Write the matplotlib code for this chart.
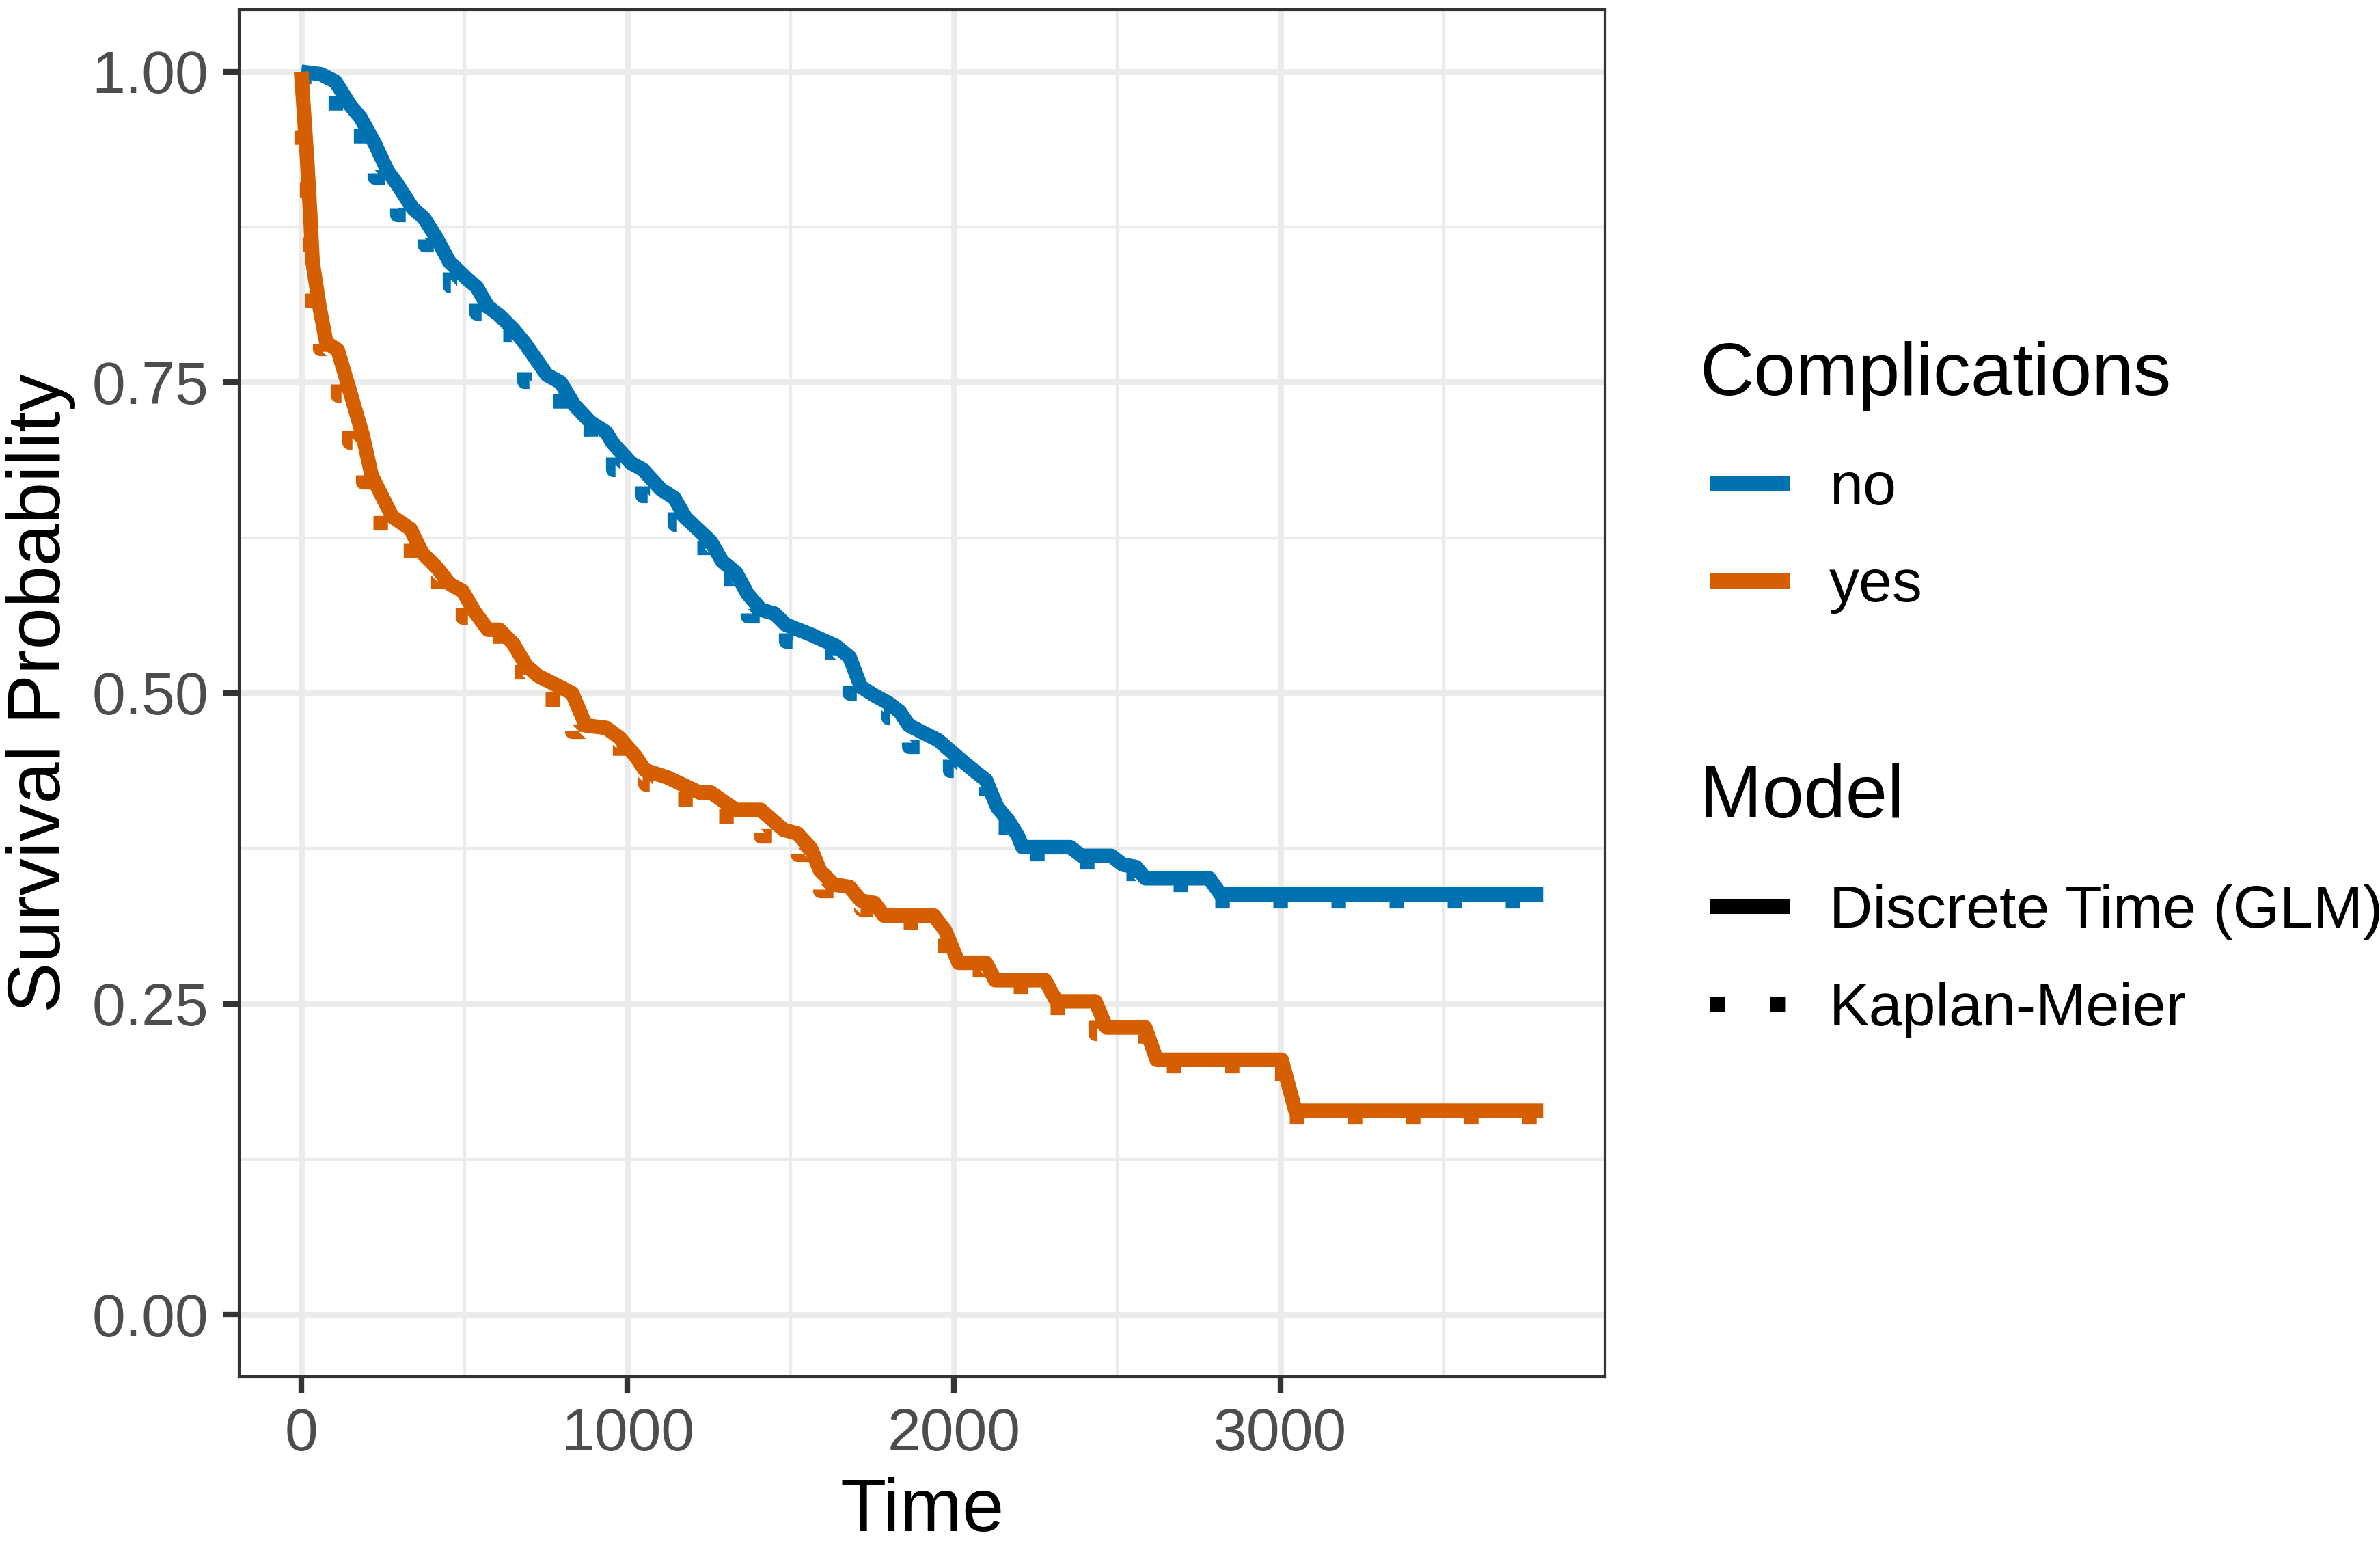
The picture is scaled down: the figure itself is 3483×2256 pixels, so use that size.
import numpy as np
import matplotlib
matplotlib.use('Agg')
import matplotlib.pyplot as plt
from matplotlib.lines import Line2D
from matplotlib.ticker import FixedLocator

#%% data
# Complications = no
time_no = [0, 60, 105, 150, 182, 224, 265, 293, 342, 377, 415, 454, 509, 537, 572, 607, 649, 684,
           753, 795, 836, 886, 934, 955, 1011, 1046, 1102, 1143, 1178, 1255, 1290, 1332, 1367, 1409,
           1450, 1485, 1562, 1638, 1680, 1715, 1757, 1799, 1834, 1862, 1952, 1987, 2036, 2064, 2098,
           2133, 2168, 2196, 2210, 2356, 2391, 2482, 2517, 2558, 2586, 2782, 2817, 3805]
# discrete time GLM
surv_no = [1.0, 0.998, 0.992, 0.973, 0.963, 0.943, 0.920, 0.910, 0.890, 0.882, 0.866, 0.847, 0.833,
           0.827, 0.811, 0.804, 0.793, 0.782, 0.756, 0.750, 0.732, 0.718, 0.710, 0.701, 0.685, 0.680,
           0.664, 0.657, 0.641, 0.622, 0.606, 0.597, 0.580, 0.567, 0.564, 0.555, 0.547, 0.538, 0.529,
           0.505, 0.498, 0.492, 0.485, 0.474, 0.462, 0.454, 0.443, 0.437, 0.430, 0.408, 0.397, 0.385,
           0.376, 0.376, 0.369, 0.369, 0.362, 0.360, 0.351, 0.351, 0.338, 0.338]
# kaplan-meier (sits a hair below the GLM curve)
km_no = [1.0, 0.996, 0.988, 0.968, 0.958, 0.938, 0.915, 0.905, 0.885, 0.877, 0.861, 0.842, 0.828,
         0.822, 0.806, 0.799, 0.788, 0.777, 0.751, 0.745, 0.727, 0.713, 0.705, 0.696, 0.680, 0.675,
         0.659, 0.652, 0.636, 0.617, 0.601, 0.592, 0.575, 0.562, 0.559, 0.550, 0.542, 0.533, 0.524,
         0.500, 0.493, 0.487, 0.480, 0.469, 0.457, 0.449, 0.438, 0.432, 0.425, 0.403, 0.392, 0.380,
         0.371, 0.371, 0.364, 0.364, 0.357, 0.355, 0.346, 0.346, 0.333, 0.333]

# Complications = yes
time_yes = [0, 18, 28, 35, 56, 77, 112, 147, 189, 216, 279, 335, 370, 419, 454, 495, 530, 572, 607,
            649, 690, 725, 830, 872, 934, 976, 1025, 1053, 1123, 1220, 1255, 1332, 1408, 1478, 1520,
            1562, 1590, 1632, 1680, 1715, 1757, 1785, 1938, 1973, 2014, 2098, 2126, 2279, 2314, 2433,
            2467, 2586, 2621, 3004, 3046, 3805]
surv_yes = [1.0, 0.930, 0.884, 0.847, 0.811, 0.782, 0.776, 0.745, 0.707, 0.675, 0.642, 0.632, 0.613,
            0.600, 0.588, 0.582, 0.566, 0.551, 0.551, 0.540, 0.522, 0.514, 0.500, 0.474, 0.472, 0.464,
            0.449, 0.438, 0.432, 0.420, 0.420, 0.406, 0.406, 0.390, 0.387, 0.375, 0.357, 0.346, 0.344,
            0.333, 0.331, 0.321, 0.321, 0.309, 0.283, 0.283, 0.269, 0.269, 0.252, 0.252, 0.231, 0.231,
            0.205, 0.205, 0.164, 0.164]
km_yes = [1.0, 0.925, 0.879, 0.842, 0.806, 0.777, 0.771, 0.740, 0.702, 0.670, 0.637, 0.627, 0.608,
          0.595, 0.583, 0.577, 0.561, 0.546, 0.546, 0.535, 0.517, 0.509, 0.495, 0.469, 0.467, 0.459,
          0.444, 0.433, 0.427, 0.415, 0.415, 0.401, 0.401, 0.385, 0.382, 0.370, 0.352, 0.341, 0.339,
          0.328, 0.326, 0.316, 0.316, 0.304, 0.278, 0.278, 0.264, 0.264, 0.247, 0.247, 0.226, 0.226,
          0.200, 0.200, 0.159, 0.159]

groups = ['no', 'yes']
colors = {'no': '#0072B2', 'yes': '#D55E00'}
models = ['Discrete Time (GLM)', 'Kaplan-Meier']
x_ticks = [0, 1000, 2000, 3000]
y_ticks = [0.0, 0.25, 0.5, 0.75, 1.0]

#%% figure
plt.rcParams['font.family'] = ['Liberation Sans', 'DejaVu Sans']
W, H, dpi = 3483, 2256, 300
fx = lambda x: x / W
fy = lambda y: 1 - y / H

fig = plt.figure(figsize=(W / dpi, H / dpi), dpi=dpi)
ax = fig.add_axes([fx(350), fy(2014), (2349 - 350) / W, (2014 - 14) / H])

lw = 5.1
dotted = (0, (1, 3))
series = {'no': (time_no, surv_no, km_no), 'yes': (time_yes, surv_yes, km_yes)}
for g in groups:
    t, s, km = series[g]
    # GLM: straight segments between predicted points
    ax.plot(t, s, color=colors[g], lw=lw, solid_capstyle='butt', solid_joinstyle='round', zorder=3)
    # KM: step function, dotted
    ax.plot(t, km, color=colors[g], lw=lw, drawstyle='steps-pre', linestyle=dotted,
            dash_capstyle='butt', zorder=3)

ax.set_xlim(-190, 3995)
ax.set_ylim(-0.05, 1.05)
ax.xaxis.set_major_locator(FixedLocator(x_ticks))
ax.xaxis.set_minor_locator(FixedLocator([500, 1500, 2500, 3500]))
ax.yaxis.set_major_locator(FixedLocator(y_ticks))
ax.yaxis.set_minor_locator(FixedLocator([0.125, 0.375, 0.625, 0.875]))
ax.set_xticklabels([str(v) for v in x_ticks])
ax.set_yticklabels(['%.2f' % v for v in y_ticks])

ax.grid(which='major', color='#EBEBEB', lw=2.1, zorder=0)
ax.grid(which='minor', color='#EBEBEB', lw=1.05, zorder=0)
ax.set_axisbelow(True)
ax.tick_params(which='major', length=5.8, width=2.0, color='#333333', labelcolor='#4D4D4D',
               labelsize=21.1, pad=5.0)
ax.tick_params(which='minor', length=0)
for sp in ax.spines.values():
    sp.set_color('#333333')
    sp.set_linewidth(1.0)

fig.text(fx(1349.5), fy(2240), 'Time', fontsize=26.4, ha='center', va='baseline')
fig.text(fx(60), fy(1014), 'Survival Probability', fontsize=26.4, rotation=90,
         ha='center', va='center')

#%% legends (drawn by hand)
def key(y, color, ls='-'):
    fig.add_artist(Line2D([fx(2502), fx(2620)], [fy(y), fy(y)], transform=fig.transFigure,
                          color=color, lw=5.3, linestyle=ls, solid_capstyle='butt',
                          dash_capstyle='butt'))

fig.text(fx(2487), fy(578), 'Complications', fontsize=26.4, va='baseline')
key(707, colors['no'])
fig.text(fx(2677), fy(738), 'no', fontsize=21.1, va='baseline')
key(850, colors['yes'])
fig.text(fx(2677), fy(880), 'yes', fontsize=21.1, va='baseline')

fig.text(fx(2487), fy(1196), 'Model', fontsize=26.4, va='baseline')
key(1326, 'black')
fig.text(fx(2677), fy(1357), models[0], fontsize=21.1, va='baseline')
key(1469, 'black', dotted)
fig.text(fx(2677), fy(1500), models[1], fontsize=21.1, va='baseline')

fig.savefig('out.png', dpi=dpi)
